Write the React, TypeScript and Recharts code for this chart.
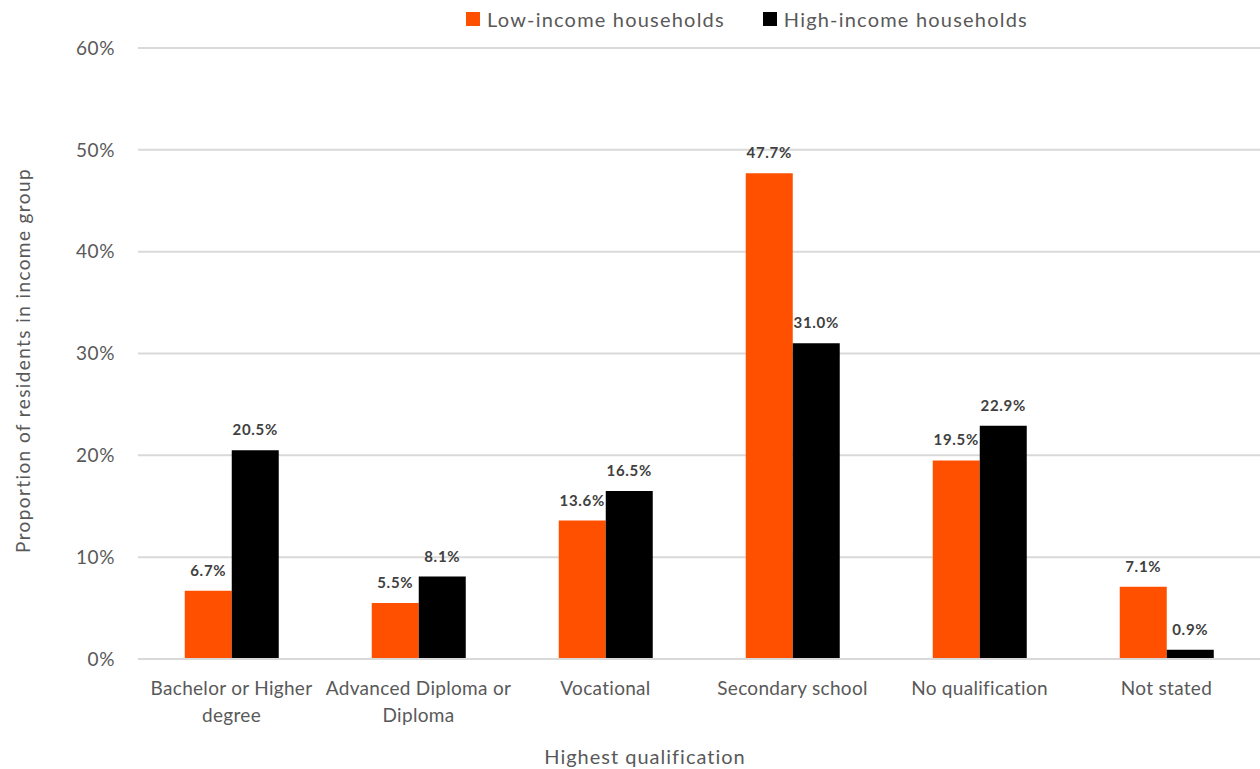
import { Bar, BarChart, CartesianGrid, LabelList, XAxis, YAxis } from 'recharts';

// "\n" marks where the tick label wraps, as in the source chart
const categories = [
  'Bachelor or Higher\ndegree',
  'Advanced Diploma or\nDiploma',
  'Vocational',
  'Secondary school',
  'No qualification',
  'Not stated'
];
const lowIncome = [6.7, 5.5, 13.6, 47.7, 19.5, 7.1];
const highIncome = [20.5, 8.1, 16.5, 31.0, 22.9, 0.9];
const yTicks = [0, 10, 20, 30, 40, 50, 60];

const data = categories.map((name, i) => ({
  name,
  low: lowIncome[i],
  high: highIncome[i]
}));

const FONT = 'Lato, Carlito, Calibri, sans-serif';
const ORANGE = '#FF5000';
const GREY = '#595959';

function XTick(props: any) {
  const { x, y, payload } = props;
  const lines = String(payload.value).split('\n');
  return (
    <text
      x={x}
      y={y + 28}
      textAnchor="middle"
      fontSize={19}
      fontFamily={FONT}
      fill={GREY}
      letterSpacing={0.3}
    >
      {lines.map((line, i) => (
        <tspan key={i} x={x} dy={i === 0 ? 0 : 27}>
          {line}
        </tspan>
      ))}
    </text>
  );
}

function YTitle(props: any) {
  const { viewBox } = props;
  const cx = viewBox.x + 22;
  const cy = viewBox.y + viewBox.height / 2 + 7;
  return (
    <text
      x={cx}
      y={cy}
      transform={`rotate(-90 ${cx} ${cy})`}
      textAnchor="middle"
      dominantBaseline="central"
      fontSize={19}
      fontFamily={FONT}
      fill={GREY}
      letterSpacing={1.4}
    >
      Proportion of residents in income group
    </text>
  );
}

function XTitle(props: any) {
  const { viewBox } = props;
  return (
    <text
      x={viewBox.x + viewBox.width / 2 - 54}
      y={viewBox.y + 97}
      textAnchor="middle"
      dominantBaseline="central"
      fontSize={20}
      fontFamily={FONT}
      fill={GREY}
      letterSpacing={1}
    >
      Highest qualification
    </text>
  );
}

const labelFmt = (v: any) => `${Number(v).toFixed(1)}%`;
const labelStyle = { fontSize: 15, fontWeight: 'bold', fontFamily: FONT, fill: '#404040', letterSpacing: 0.7 };

export default function App() {
  return (
    <div style={{ position: 'absolute', left: 0, top: 0, width: 1260, height: 769, background: '#fff' }}>
      <div
        style={{
          position: 'absolute',
          top: 7,
          left: 466,
          display: 'flex',
          alignItems: 'center',
          fontFamily: FONT,
          fontSize: 20,
          letterSpacing: 1.2,
          color: GREY,
          whiteSpace: 'nowrap'
        }}
      >
        <span style={{ width: 14, height: 14, background: ORANGE, display: 'inline-block', marginRight: 7 }} />
        <span style={{ marginRight: 38 }}>Low-income households</span>
        <span style={{ width: 14, height: 14, background: '#000', display: 'inline-block', marginRight: 7 }} />
        <span>High-income households</span>
      </div>
      <BarChart
        width={1260}
        height={769}
        data={data}
        margin={{ top: 48, right: 0, bottom: 0, left: 0 }}
        barCategoryGap="25%"
        barGap={0}
      >
        <CartesianGrid vertical={false} stroke="#d9d9d9" strokeWidth={2} />
        <XAxis
          dataKey="name"
          interval={0}
          height={110}
          tickLine={false}
          axisLine={{ stroke: '#d9d9d9', strokeWidth: 2 }}
          tick={<XTick />}
          label={<XTitle />}
        />
        <YAxis
          width={138}
          domain={[0, 60]}
          ticks={yTicks}
          tickFormatter={(v) => `${v}%`}
          tickLine={false}
          axisLine={false}
          tickMargin={17}
          tick={{ fontSize: 19, fontFamily: FONT, fill: GREY, letterSpacing: 0.6 }}
          label={<YTitle />}
        />
        <Bar dataKey="low" fill={ORANGE} isAnimationActive={false}>
          <LabelList dataKey="low" position="top" offset={15} formatter={labelFmt} style={labelStyle} />
        </Bar>
        <Bar dataKey="high" fill="#000000" isAnimationActive={false}>
          <LabelList dataKey="high" position="top" offset={15} formatter={labelFmt} style={labelStyle} />
        </Bar>
      </BarChart>
    </div>
  );
}
